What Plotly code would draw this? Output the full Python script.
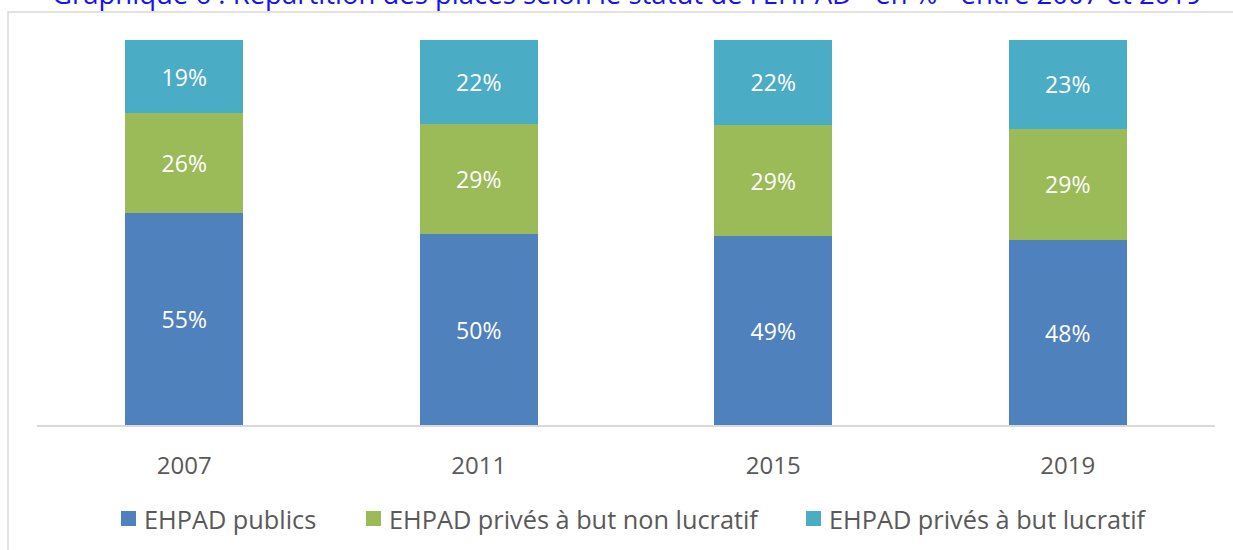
import plotly.graph_objects as go

years = ["2007", "2011", "2015", "2019"]
publics = [55, 50, 49, 48]
non_lucratif = [26, 29, 29, 29]
lucratif = [19, 22, 22, 23]

series = [
    ("EHPAD publics", publics, "#4F81BD"),
    ("EHPAD privés à but non lucratif", non_lucratif, "#9BBB59"),
    ("EHPAD privés à but lucratif", lucratif, "#4BACC6"),
]

FONT = "'Open Sans', Lato, sans-serif"
W, H = 1233, 550
L, R, T, B = 37, 18, 40, 125
PW, PH = W - L - R, H - T - B


def px_x(p):
    return (p - L) / PW


def px_y(p):
    return (H - B - p) / PH


fig = go.Figure()
for name, vals, color in series:
    fig.add_trace(go.Bar(
        x=years, y=vals, name=name, showlegend=False,
        marker=dict(color=color, line=dict(width=0)),
        text=[f"{v}%" for v in vals],
        texttemplate="%{text}",
        textposition="inside",
        insidetextanchor="middle",
        textfont=dict(color="white", size=23, family=FONT),
        hoverinfo="skip",
    ))

# custom legend (square + label), positioned like the reference
legend_left_px = [121, 366, 806]
shapes = [dict(
    type="rect", xref="paper", yref="paper",
    x0=px_x(8), x1=1.05, y0=-0.5, y1=px_y(12),
    line=dict(color="#D9D9D9", width=1.5), fillcolor="rgba(0,0,0,0)",
    layer="below",
)]
annotations = [dict(
    text="Graphique 6 : Répartition des places selon le statut de l'EHPAD - en % - entre 2007 et 2019",
    xref="paper", yref="paper", x=px_x(627), xanchor="center",
    y=px_y(14), yanchor="bottom", showarrow=False,
    font=dict(size=27.5, color="#1414F0", family=FONT),
)]
for (name, vals, color), lx in zip(series, legend_left_px):
    shapes.append(dict(
        type="rect", xref="paper", yref="paper",
        x0=px_x(lx), x1=px_x(lx + 15), y0=px_y(526), y1=px_y(511),
        line=dict(width=0), fillcolor=color,
    ))
    annotations.append(dict(
        text=name, xref="paper", yref="paper", x=px_x(lx + 21), xanchor="left",
        y=px_y(519), yanchor="middle", showarrow=False,
        font=dict(size=25.3, color="#595959", family=FONT),
    ))

fig.update_layout(
    width=W, height=H,
    barmode="stack", barnorm="percent", bargap=0.6,
    paper_bgcolor="white", plot_bgcolor="white",
    margin=dict(l=L, r=R, t=T, b=B),
    font=dict(family=FONT, color="#595959"),
    showlegend=False,
    xaxis=dict(
        showgrid=False, showline=True, linecolor="#D9D9D9", linewidth=1.5,
        ticks="", tickfont=dict(size=24, color="#595959"),
        ticklabelstandoff=18,
    ),
    yaxis=dict(range=[0, 100], visible=False, showgrid=False),
    uniformtext=dict(minsize=10, mode="show"),
    annotations=annotations,
    shapes=shapes,
)

fig.write_html("out.html", config={"displayModeBar": False},
               post_script="document.body.style.margin='0';")
